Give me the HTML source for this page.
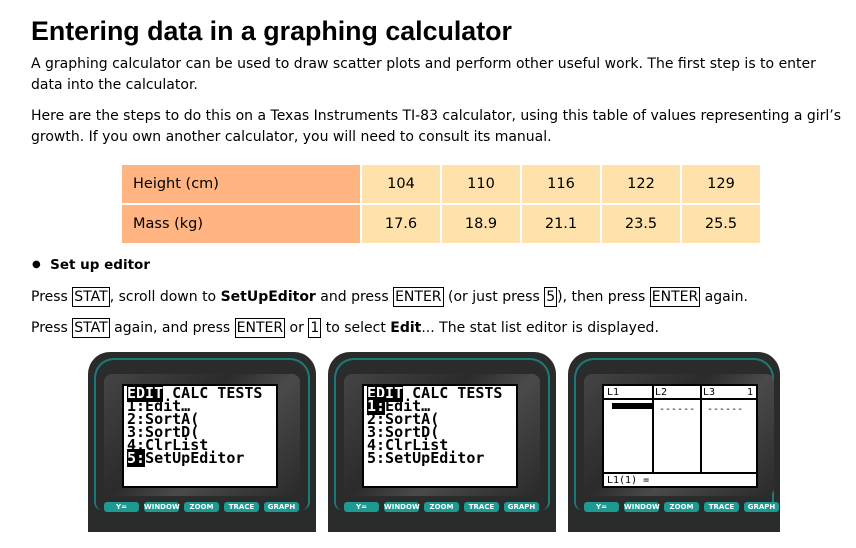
<!DOCTYPE html>
<html><head><meta charset="utf-8"><style>
body{margin:0;width:856px;height:548px;background:#fff;font-family:"DejaVu Sans","Liberation Sans",sans-serif;color:#000;position:relative;overflow:hidden}
.a{position:absolute;white-space:nowrap}
h1{position:absolute;left:31px;top:16px;margin:0;font-size:26.8px;font-weight:bold;font-family:"Liberation Sans",sans-serif}
.p{font-size:14px}
.k{border:1px solid #000;padding:1px 1px}
table{position:absolute;left:122px;top:165px;border-collapse:separate;border-spacing:2px 2px;margin:-2px}
td{height:38px;font-size:14.5px;padding:0}
td.h{background:#ffb482;width:238px;padding-left:11px;box-sizing:border-box}
td.v{background:#ffe1ab;width:78px;text-align:center}
.calc{position:absolute;top:352px;width:228px;height:180px;background:#2a2c2c;border-radius:22px 22px 0 0;overflow:hidden}
.calc .rim{position:absolute;left:6px;top:6px;right:6px;height:150px;border:2px solid #1e7a78;border-radius:20px 20px 8px 8px;border-bottom:none}
.calc .bez{position:absolute;left:16px;top:22px;width:196px;height:122px;background:linear-gradient(135deg,#444 0%,#2b2b2b 40%,#4a4a4a 60%,#2a2a2a 100%);border-radius:8px}
.scr{position:absolute;left:18px;top:10px;width:156px;height:104px;background:#fff;border:2px solid #000;box-sizing:border-box;font-family:"DejaVu Sans Mono","Liberation Mono",monospace;font-size:15px;line-height:13px;padding:1px 3px;font-weight:bold}
.btns{position:absolute;top:150px;left:16px;display:flex;gap:5px}
.btns span{background:#1d9a92;color:#fff;font-size:7px;font-weight:bold;width:35px;height:10px;line-height:10px;text-align:center;border-radius:3px}
.inv{background:#000;color:#fff}
</style></head><body>
<h1>Entering data in a graphing calculator</h1>
<div class="a p" style="left:31px;top:56px">A graphing calculator can be used to draw scatter plots and perform other useful work. The first step is to enter</div>
<div class="a p" style="left:31px;top:77px">data into the calculator.</div>
<div class="a p" style="left:31px;top:108px">Here are the steps to do this on a Texas Instruments TI-83 calculator, using this table of values representing a girl’s</div>
<div class="a p" style="left:31px;top:129px">growth. If you own another calculator, you will need to consult its manual.</div>
<table>
<tr><td class="h">Height (cm)</td><td class="v">104</td><td class="v">110</td><td class="v">116</td><td class="v">122</td><td class="v">129</td></tr>
<tr><td class="h">Mass (kg)</td><td class="v">17.6</td><td class="v">18.9</td><td class="v">21.1</td><td class="v">23.5</td><td class="v">25.5</td></tr>
</table>
<div class="a" style="left:32px;top:257px;font-size:13.5px;font-weight:bold"><span style="font-size:10px;vertical-align:2px">●</span>&nbsp; Set up editor</div>
<div class="a p" style="left:31px;top:289px">Press <span class="k">STAT</span>, scroll down to <b>SetUpEditor</b> and press <span class="k">ENTER</span> (or just press <span class="k">5</span>), then press <span class="k">ENTER</span> again.</div>
<div class="a p" style="left:31px;top:320px">Press <span class="k">STAT</span> again, and press <span class="k">ENTER</span> or <span class="k">1</span> to select <b>Edit</b>... The stat list editor is displayed.</div>

<div class="calc" style="left:88px"><div class="rim"></div><div class="bez"><div class="scr"><span class="inv">EDIT</span> CALC TESTS<br>1:Edit…<br>2:SortA(<br>3:SortD(<br>4:ClrList<br><span class="inv">5:</span>SetUpEditor</div></div><div class="btns"><span>Y=</span><span>WINDOW</span><span>ZOOM</span><span>TRACE</span><span>GRAPH</span></div></div>
<div class="calc" style="left:328px"><div class="rim"></div><div class="bez"><div class="scr"><span class="inv">EDIT</span> CALC TESTS<br><span class="inv">1:</span>Edit…<br>2:SortA(<br>3:SortD(<br>4:ClrList<br>5:SetUpEditor</div></div><div class="btns"><span>Y=</span><span>WINDOW</span><span>ZOOM</span><span>TRACE</span><span>GRAPH</span></div></div>
<div class="calc" style="left:568px;width:212px"><div class="rim"></div><div class="bez" style="width:190px"><div class="scr" style="padding:0;font-size:10px;font-weight:normal">
<div style="position:absolute;left:0;right:0;top:12px;border-top:2px solid #000"></div>
<div style="position:absolute;left:0;right:0;top:86px;border-top:2px solid #000"></div>
<div style="position:absolute;left:48px;top:0;height:87px;border-left:2px solid #000"></div>
<div style="position:absolute;left:96px;top:0;height:87px;border-left:2px solid #000"></div>
<div style="position:absolute;left:3px;top:0">L1</div><div style="position:absolute;left:51px;top:0">L2</div><div style="position:absolute;left:99px;top:0">L3</div><div style="position:absolute;right:3px;top:0">1</div>
<div style="position:absolute;left:8px;top:17px;width:40px;height:6px;background:#000"></div>
<div style="position:absolute;left:55px;top:17px">------</div><div style="position:absolute;left:103px;top:17px">------</div>
<div style="position:absolute;left:3px;top:88px">L1(1) =</div>
</div></div><div class="btns"><span>Y=</span><span>WINDOW</span><span>ZOOM</span><span>TRACE</span><span>GRAPH</span></div></div>
</body></html>
